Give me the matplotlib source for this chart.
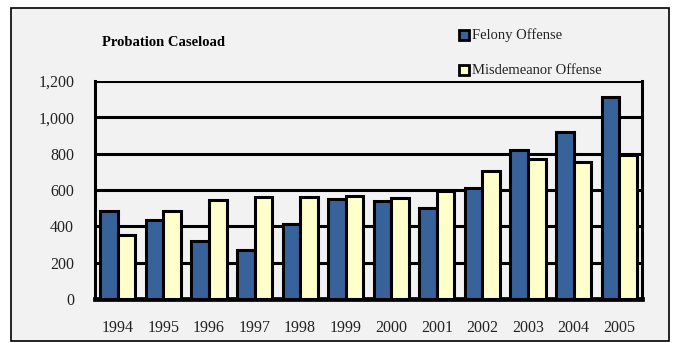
import matplotlib
matplotlib.use("Agg")
import matplotlib.pyplot as plt
import numpy as np
from matplotlib.patches import Rectangle
from matplotlib.lines import Line2D

years = ["1994", "1995", "1996", "1997", "1998", "1999", "2000", "2001", "2002", "2003", "2004", "2005"]
felony = [485, 435, 322, 270, 415, 550, 542, 503, 613, 822, 922, 1112]
misdemeanor = [350, 485, 543, 562, 560, 568, 558, 597, 706, 768, 752, 795]
yticks = [0, 200, 400, 600, 800, 1000, 1200]
ytick_labels = ["0", "200", "400", "600", "800", "1,000", "1,200"]

FONT = ["Liberation Serif", "DejaVu Serif"]
plt.rcParams["font.family"] = FONT

W, H = 675, 343
fig = plt.figure(figsize=(W / 100, H / 100), dpi=100)
fig.patch.set_facecolor("white")

# outer chart border
fig.patches.append(Rectangle((11 / W, 1 - 341 / H), (669 - 11) / W, (341 - 8) / H,
                             transform=fig.transFigure, facecolor="#F2F2F2",
                             edgecolor="black", linewidth=1.2, zorder=-5))

ax = fig.add_axes([95 / W, 1 - 299 / H, (642 - 95) / W, (299 - 81) / H])
ax.set_zorder(2)
ax.set_facecolor("#F2F2F2")

x = np.arange(len(years))
bw = 0.385
ax.bar(x - bw / 2, felony, bw, color="#38629A", edgecolor="black", linewidth=2.2, zorder=3)
ax.bar(x + bw / 2, misdemeanor, bw, color="#FFFFCC", edgecolor="black", linewidth=2.2, zorder=3)

ax.set_xlim(-0.5, len(years) - 0.5)
ax.set_ylim(0, 1200)
ax.set_yticks(yticks)
ax.set_yticklabels(ytick_labels, fontsize=11.5)
ax.set_xticks(x)
ax.set_xticklabels(years, fontsize=11.5)
ax.tick_params(axis="both", length=0, colors="#222222")
ax.tick_params(axis="x", pad=15)
ax.tick_params(axis="y", pad=15)
ax.yaxis.grid(True, color="black", linewidth=2.2, zorder=1)
ax.set_axisbelow(True)

ax.spines["top"].set_visible(False)
ax.spines["left"].set_linewidth(2.2)
ax.spines["right"].set_linewidth(2.2)
ax.spines["bottom"].set_linewidth(3.4)

fig.text(102 / W, 1 - 42 / H, "Probation Caseload", fontsize=10.5, fontweight="bold",
         va="center", ha="left")

# legend
for ypix, col, lab in [(35, "#38629A", "Felony Offense"), (70, "#FFFFCC", "Misdemeanor Offense")]:
    fig.lines.append(Line2D([464 / W], [1 - ypix / H], marker="s", markersize=6.5,
                            markerfacecolor=col, markeredgecolor="black",
                            markeredgewidth=2.0, transform=fig.transFigure))
    fig.text(472 / W, 1 - ypix / H, lab, fontsize=10.5, va="center", ha="left", color="#222222")

fig.savefig("out.png", dpi=100)
